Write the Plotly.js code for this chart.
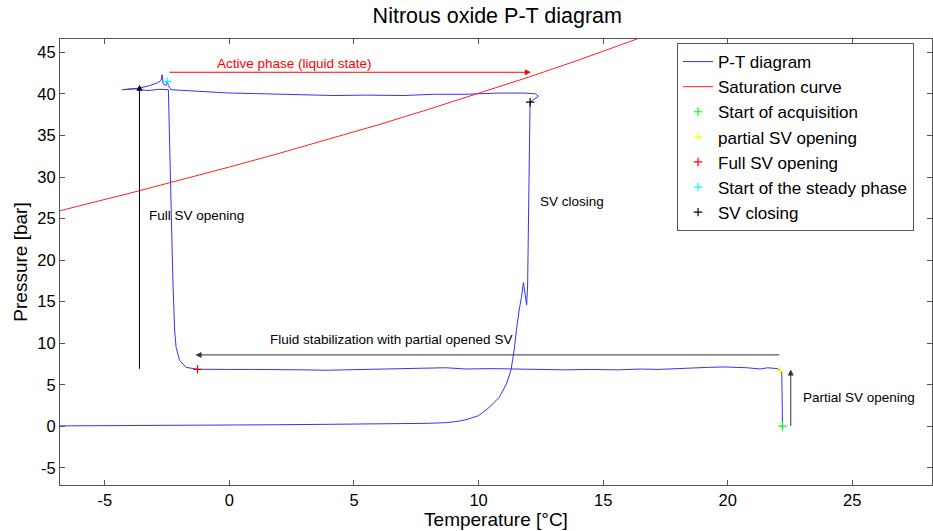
<!DOCTYPE html>
<html>
<head>
<meta charset="utf-8">
<script src="https://cdn.plot.ly/plotly-3.0.1.min.js"></script>
<style>html,body{margin:0;padding:0;background:#fff}#chart{width:933px;height:531px}</style>
</head>
<body>
<div id="chart"></div>
<script>
// P-T diagram path (temperature °C, pressure bar), in time order
const ptTemp = [22.2,22.2,22.19,22.2,22.2,22.17,22.1,22.0,21.6,21.3,20.8,20.3,19.9,19.2,18.7,18.0,17.2,16.5,15.6,14.5,13.5,12.5,11.35,10.5,9.5,8.7,7.8,6.8,5.8,4.8,3.85,3.0,2.0,1.0,0,-0.7,-1.28,
  -1.74,-2.0,-2.14,-2.2,-2.27,-2.34,-2.4,-2.43,-2.45,-2.8,-3.3,-3.8,-4.3,-4.1,-3.6,-3.2,-2.9,-2.75,-2.7,-2.66,-2.55,-2.5,-2.45,-2.35,
  -1.2,0,1.5,2.8,4.2,5.5,7,8.2,9.5,10.8,11.8,12.3,12.4,12.2,12.07,
  12.04,12.02,12.0,11.97,11.93,11.87,11.8,11.72,11.63,11.52,11.43,11.3,11.12,10.83,10.4,10.0,9.5,9.1,8.7,8.0,7.0,6,4,2,0,-2,-4,-6,-7.5];
const ptPress = [0.04,1.5,3,4.5,6.0,6.5,6.66,6.95,7.05,6.9,7.05,7.1,7.15,7.1,7.0,6.95,6.85,6.9,6.8,6.85,6.8,6.85,6.9,6.95,6.9,7.05,7.0,6.95,6.9,6.85,6.75,6.8,6.85,6.85,6.85,6.85,6.87,
  7.1,7.95,9.5,11.6,17.6,25.7,33.6,38,40.5,40.55,40.4,40.6,40.5,40.55,40.7,41.0,41.3,41.6,42.3,41.2,41.0,41.5,41.0,40.5,
  40.3,40.1,40.0,39.9,39.8,39.85,39.8,39.95,39.95,40.1,40.1,40.0,39.7,39.3,39.0,
  33,26,20,17,14.6,16,17.3,15.5,14.0,11.6,9.2,6.75,5.1,3.5,2.2,1.3,0.8,0.58,0.45,0.37,0.32,0.3,0.25,0.2,0.15,0.12,0.1,0.05,0.05];

// Saturation curve
const satTemp = [-7.5,-7,-6,-4,-2,0,2,4,6,8,10,12,14,16,17];
const satPress = [25.4,25.8,26.55,28.05,29.6,31.2,32.85,34.55,36.3,38.15,40.05,42.0,44.05,46.2,47.3];

// Event markers
const eventNames = ["Start of acquisition","partial SV opening","Full SV opening","Start of the steady phase","SV closing"];
const eventTemp = [22.2,22.1,-1.28,-2.5,12.07];
const eventPress = [0.04,6.66,6.87,41.5,39.0];
const eventColors = ["#00ff00","#ffff00","#ff0000","#00ffff","#000000"];

const xTicks = [-5,0,5,10,15,20,25];
const yTicks = [-5,0,5,10,15,20,25,30,35,40,45];

const FONT = '"Liberation Sans", Arial, sans-serif';

const traces = [
  {x: ptTemp, y: ptPress, mode:'lines', name:'P-T diagram', line:{color:'#3333ff', width:1}},
  {x: satTemp, y: satPress, mode:'lines', name:'Saturation curve', line:{color:'#ff2020', width:1}}
];
eventNames.forEach((n,i)=>{
  traces.push({x:[eventTemp[i]], y:[eventPress[i]], mode:'markers', name:n,
    marker:{symbol:'cross-thin', size:6, line:{width:1.2, color:eventColors[i]}, color:eventColors[i]}});
});

const arrow = (x,y,ax,ay,color)=>({x:x,y:y,ax:ax,ay:ay,xref:'x',yref:'y',axref:'x',ayref:'y',text:'',showarrow:true,
  arrowhead:2,arrowsize:1.2,arrowwidth:1,arrowcolor:color,standoff:0,startstandoff:0});
const label = (x,y,t,color,anchor)=>({x:x,y:y,xref:'x',yref:'y',text:t,showarrow:false,xanchor:anchor||'center',yanchor:'middle',
  font:{family:FONT,size:13.5,color:color||'#000'}});

const layout = {
  width:933, height:531,
  margin:{l:60, r:1, t:39, b:46},
  paper_bgcolor:'#fff', plot_bgcolor:'#fff',
  font:{family:FONT, color:'#000'},
  title:{text:'Nitrous oxide P-T diagram', font:{family:FONT,size:21.5,color:'#000'}, x:0.533, xref:'container', xanchor:'center', y:0.97, yref:'container', yanchor:'middle'},
  xaxis:{range:[-6.8,28.2], tickvals:xTicks, ticktext:xTicks.map(String), ticks:'inside', ticklen:5, tickcolor:'#555',
    showline:true, linecolor:'#555', linewidth:1, mirror:'ticks', showgrid:false, zeroline:false,
    tickfont:{family:FONT,size:16.5,color:'#000'}, title:{text:'Temperature [°C]', font:{family:FONT,size:19,color:'#000'}, standoff:3}},
  yaxis:{range:[-7.05,46.6], tickvals:yTicks, ticktext:yTicks.map(String), ticks:'inside', ticklen:5, tickcolor:'#555',
    showline:true, linecolor:'#555', linewidth:1, mirror:'ticks', showgrid:false, zeroline:false,
    tickfont:{family:FONT,size:16.5,color:'#000'}, title:{text:'Pressure [bar]', font:{family:FONT,size:19,color:'#000'}, standoff:4}},
  showlegend:true,
  legend:{x:0.7076, y:0.991, xanchor:'left', yanchor:'top', bgcolor:'#fff', bordercolor:'#555', borderwidth:1,
    font:{family:FONT,size:17,color:'#000'}, traceorder:'normal', itemwidth:30, entrywidth:214, entrywidthmode:'pixels'},
  annotations:[
    arrow(12.1,42.6,-2.47,42.6,'#ff0000'),
    arrow(-3.61,41.1,-3.61,6.75,'#000'),
    arrow(-1.36,8.6,22.13,8.6,'#333'),
    arrow(22.53,6.83,22.53,-0.1,'#333'),
    label(2.6,43.7,'Active phase (liquid state)','#ff0000'),
    label(-3.3,25.4,'Full SV opening','#000','left'),
    label(12.4,27.1,'SV closing','#000','left'),
    label(6.5,10.4,'Fluid stabilization with partial opened SV','#000'),
    label(22.95,3.5,'Partial SV opening','#000','left')
  ]
};
Plotly.newPlot('chart', traces, layout, {staticPlot:true, displayModeBar:false});
</script>
</body>
</html>
